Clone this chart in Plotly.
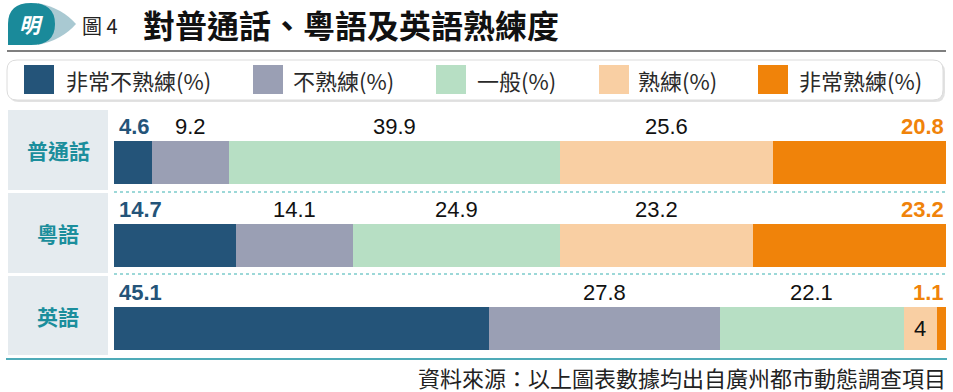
import plotly.graph_objects as go

# ---------------- data ----------------
languages = ["普通話", "粵語", "英語"]
levels = ["非常不熟練(%)", "不熟練(%)", "一般(%)", "熟練(%)", "非常熟練(%)"]
very_unskilled = [4.6, 14.7, 45.1]
unskilled = [9.2, 14.1, 27.8]
average = [39.9, 24.9, 22.1]
skilled = [25.6, 23.2, 4.0]
very_skilled = [20.8, 23.2, 1.1]
series = [very_unskilled, unskilled, average, skilled, very_skilled]
colors = ["#245479", "#9a9fb4", "#b7dfc4", "#f9cfa3", "#f0830a"]

title_text = "對普通話、粵語及英語熟練度"
fig_no = "圖 4"
source_text = "資料來源：以上圖表數據均出自廣州都市動態調查項目"

W, H = 953, 392
CJK = "Noto Sans CJK TC"
NUM = "Liberation Sans"


def px(x):
    return x / W


def py(y):
    return 1 - y / H


rows = list(range(len(languages)))
total = max(sum(s[i] for s in series) for i in rows)

fig = go.Figure()
for name, vals, col in zip(levels, series, colors):
    fig.add_trace(go.Bar(
        y=rows, x=vals, name=name, orientation="h",
        marker=dict(color=col, line=dict(width=0)),
        width=0.52, hoverinfo="x+name", showlegend=False,
    ))

annotations = []
shapes = []

# value labels
for i in rows:
    cum = 0.0
    n = len(series)
    for k, vals in enumerate(series):
        v = vals[i]
        txt = f"{v:g}"
        if k == 0:
            annotations.append(dict(x=0, y=i, xref="x", yref="y", text=f"<b>{txt}</b>",
                                    xanchor="left", yanchor="middle", xshift=3, yshift=36,
                                    showarrow=False, font=dict(family=NUM, size=22, color=colors[0])))
        elif k == n - 1:
            annotations.append(dict(x=cum + v, y=i, xref="x", yref="y", text=f"<b>{txt}</b>",
                                    xanchor="right", yanchor="middle", xshift=0, yshift=36,
                                    showarrow=False, font=dict(family=NUM, size=22, color=colors[-1])))
        else:
            inside = v < 8
            annotations.append(dict(x=cum + v / 2, y=i, xref="x", yref="y", text=txt,
                                    xanchor="center", yanchor="middle",
                                    yshift=(0 if inside else 36),
                                    showarrow=False, font=dict(family=NUM, size=22, color="#111")))
        cum += v

# row label boxes + category labels
row_centers = [162, 245, 328]
box_spans = [(110, 190), (193, 273), (276, 355)]
for i, lang in enumerate(languages):
    y0, y1 = box_spans[i]
    shapes.append(dict(type="rect", xref="paper", yref="paper", x0=px(8), x1=px(108),
                       y0=py(y1), y1=py(y0), fillcolor="#e5ebef", line=dict(width=0), layer="below"))
    annotations.append(dict(x=px(58), y=py((y0 + y1) / 2), xref="paper", yref="paper",
                            text=f"<b>{lang}</b>", showarrow=False, xanchor="center", yanchor="middle",
                            font=dict(family=CJK, size=21, color="#1b8e9c")))

# dotted separators
for yy in [192, 274]:
    shapes.append(dict(type="line", xref="paper", yref="paper", x0=px(114), x1=px(946),
                       y0=py(yy), y1=py(yy), line=dict(color="#7ccbcc", width=1.5, dash="dot")))

# bottom teal line
shapes.append(dict(type="line", xref="paper", yref="paper", x0=px(6), x1=px(947),
                   y0=py(359), y1=py(359), line=dict(color="#4fabb8", width=2)))

# title underline
shapes.append(dict(type="line", xref="paper", yref="paper", x0=px(7), x1=px(946),
                   y0=py(51), y1=py(51), line=dict(color="#555555", width=1.5)))


# legend box (rounded) with shadow
def rounded(x0, y0, x1, y1, r):
    X = lambda v: px(v)
    Y = lambda v: py(v)
    return (f"M {X(x0 + r)} {Y(y0)} L {X(x1 - r)} {Y(y0)} Q {X(x1)} {Y(y0)} {X(x1)} {Y(y0 + r)} "
            f"L {X(x1)} {Y(y1 - r)} Q {X(x1)} {Y(y1)} {X(x1 - r)} {Y(y1)} "
            f"L {X(x0 + r)} {Y(y1)} Q {X(x0)} {Y(y1)} {X(x0)} {Y(y1 - r)} "
            f"L {X(x0)} {Y(y0 + r)} Q {X(x0)} {Y(y0)} {X(x0 + r)} {Y(y0)} Z")


shapes.append(dict(type="path", xref="paper", yref="paper", path=rounded(9, 62, 945, 102, 10),
                   fillcolor="#e2e2e2", line=dict(width=0), layer="below"))
shapes.append(dict(type="path", xref="paper", yref="paper", path=rounded(7, 60, 943, 100, 10),
                   fillcolor="white", line=dict(color="#dcdcdc", width=1), layer="below"))

sw_x = [24, 253, 436, 599, 758]
tx_x = [64, 291, 475, 636, 797]
for name, col, sx, tx in zip(levels, colors, sw_x, tx_x):
    shapes.append(dict(type="rect", xref="paper", yref="paper", x0=px(sx), x1=px(sx + 30),
                       y0=py(94), y1=py(65), fillcolor=col, line=dict(width=0)))
    annotations.append(dict(x=px(tx), y=py(80), xref="paper", yref="paper", text=name,
                            showarrow=False, xanchor="left", yanchor="middle",
                            font=dict(family=CJK, size=22, color="#2a2a2a")))

# logo
shapes.append(dict(type="path", xref="paper", yref="paper",
                   path=(f"M {px(38)} {py(3)} Q {px(62)} {py(8)} {px(76)} {py(24)} "
                         f"Q {px(62)} {py(40)} {px(38)} {py(45)} Z"),
                   fillcolor="#a9c9d2", line=dict(width=0)))
shapes.append(dict(type="path", xref="paper", yref="paper",
                   path=(f"M {px(8)} {py(45)} L {px(8)} {py(24)} Q {px(8)} {py(3)} {px(31)} {py(3)} "
                         f"Q {px(55)} {py(3)} {px(55)} {py(24)} Q {px(55)} {py(45)} {px(31)} {py(45)} Z"),
                   fillcolor="#1a8a9a", line=dict(width=0)))
annotations.append(dict(x=px(31), y=py(24), xref="paper", yref="paper", text="<b><i>明</i></b>",
                        showarrow=False, xanchor="center", yanchor="middle",
                        font=dict(family=CJK, size=21, color="white")))
annotations.append(dict(x=px(80), y=py(25), xref="paper", yref="paper", text=fig_no,
                        showarrow=False, xanchor="left", yanchor="middle",
                        font=dict(family=CJK, size=20, color="#222")))
annotations.append(dict(x=px(141), y=py(24), xref="paper", yref="paper", text=f"<b>{title_text}</b>",
                        showarrow=False, xanchor="left", yanchor="middle",
                        font=dict(family=CJK, size=32, color="#111")))

# source
annotations.append(dict(x=px(947), y=py(377), xref="paper", yref="paper", text=source_text,
                        showarrow=False, xanchor="right", yanchor="middle", borderpad=0,
                        font=dict(family=CJK, size=22, color="#222")))

top_px = row_centers[0] - 41.5
bot_px = row_centers[-1] + 41.5
fig.update_layout(
    width=W, height=H, margin=dict(l=0, r=0, t=0, b=0),
    barmode="stack", bargap=0,
    paper_bgcolor="white", plot_bgcolor="rgba(0,0,0,0)",
    xaxis=dict(domain=[px(114), px(946)], range=[0, total], visible=False, fixedrange=True),
    yaxis=dict(domain=[py(bot_px), py(top_px)], range=[2.5, -0.5], visible=False, fixedrange=True),
    shapes=shapes, annotations=annotations, showlegend=False,
)

fig.write_html("out.html", config={"displayModeBar": False},
               post_script="document.body.style.margin='0px';document.body.style.overflow='hidden';")
